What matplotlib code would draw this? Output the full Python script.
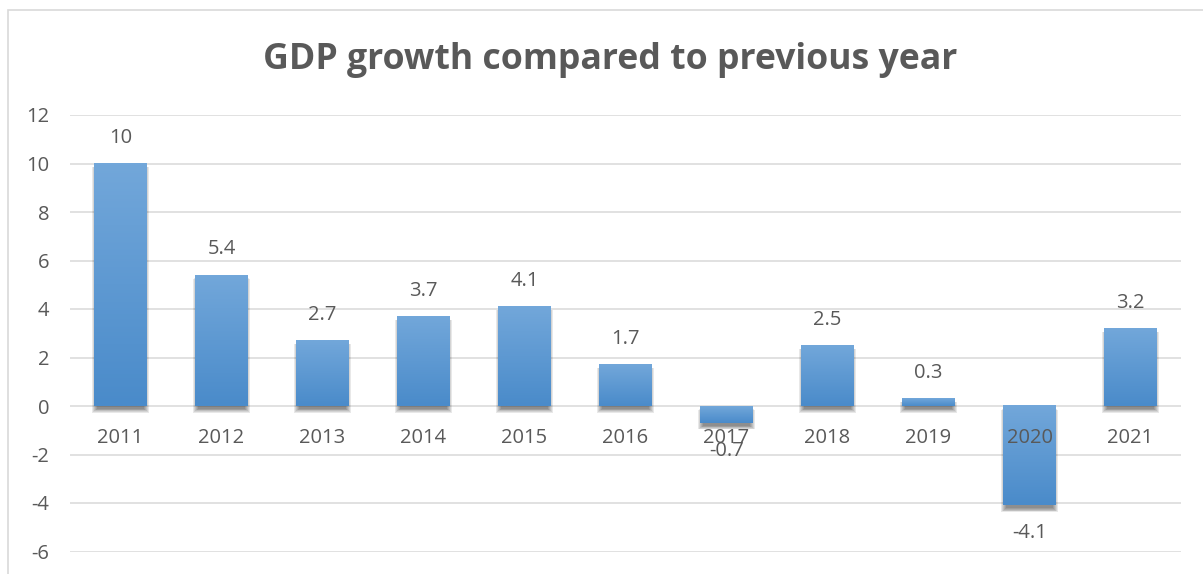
import numpy as np
import matplotlib.pyplot as plt
from matplotlib.patches import Rectangle

# GDP growth per year, percent
years = ["2011", "2012", "2013", "2014", "2015", "2016",
         "2017", "2018", "2019", "2020", "2021"]
growth = [10, 5.4, 2.7, 3.7, 4.1, 1.7, -0.7, 2.5, 0.3, -4.1, 3.2]
y_ticks = [-6, -4, -2, 0, 2, 4, 6, 8, 10, 12]

TEXT = "#595959"
GRID = "#d9d9d9"
TOP_BLUE = np.array([0x72, 0xa7, 0xda]) / 255
BOTTOM_BLUE = np.array([0x4a, 0x8b, 0xca]) / 255
FONT = "Open Sans"
FS = 14.5

W, H = 1203, 574
fig = plt.figure(figsize=(W / 100, H / 100), dpi=100)
fig.patch.set_facecolor("white")

# light frame around the chart area
fig.add_artist(Rectangle((8 / W, -0.05), 1.2, 1.05 - 10 / H, transform=fig.transFigure,
                         facecolor="none", edgecolor="#d9d9d9", lw=1.2))

ax = fig.add_axes([70 / W, 22.5 / H, (1181 - 70) / W, (459 - 22.5) / H])
ax.set_xlim(-0.5, len(years) - 0.5)
ax.set_ylim(-6, 12)
for s in ax.spines.values():
    s.set_visible(False)
ax.set_yticks(y_ticks)
ax.set_yticklabels([str(t) for t in y_ticks], fontsize=FS, color=TEXT, family=FONT)
ax.tick_params(axis="y", length=0, pad=15)
ax.set_xticks([])
ax.yaxis.grid(True, color=GRID, lw=1.1)
ax.set_axisbelow(True)

px_x = (len(years)) / (1181 - 70)
px_y = 18 / (459 - 22.5)
bar_w = 0.52

# vertical gradient used for every bar
grad = np.linspace(0, 1, 64)[:, None, None]
grad_img = TOP_BLUE * (1 - grad) + BOTTOM_BLUE * grad

for i, v in enumerate(growth):
    x0 = i - bar_w / 2
    top, bottom = max(v, 0), min(v, 0)
    # soft drop shadow under the bar
    for r in range(6):
        ax.add_patch(Rectangle((x0 + (3 - r) * px_x, bottom - (3 + r * 0.7) * px_y),
                               bar_w - 2 * (3 - r) * px_x, (top - bottom) + r * px_y * 0.6,
                               facecolor="black", edgecolor="none", alpha=0.09, zorder=2))
    ax.imshow(grad_img, extent=[x0, x0 + bar_w, bottom, top], aspect="auto",
              interpolation="bilinear", zorder=3)
    # data label
    ax.annotate(f"{v:g}", (i, v), xytext=(0, 18.5 if v >= 0 else -20),
                textcoords="offset points", ha="center", va="center",
                fontsize=FS, color=TEXT, family=FONT, zorder=5)
    # category label sits just below the zero line
    ax.annotate(years[i], (i, 0), xytext=(0, -23), textcoords="offset points",
                ha="center", va="center", fontsize=FS, color=TEXT, family=FONT, zorder=5)

ax.set_xlim(-0.5, len(years) - 0.5)
ax.set_ylim(-6, 12)

fig.text(610 / W, 1 - 60 / H, "GDP growth compared to previous year", ha="center",
         va="center", fontsize=25.7, fontweight="bold", color=TEXT, family=FONT)

fig.savefig("out.png", dpi=100)
